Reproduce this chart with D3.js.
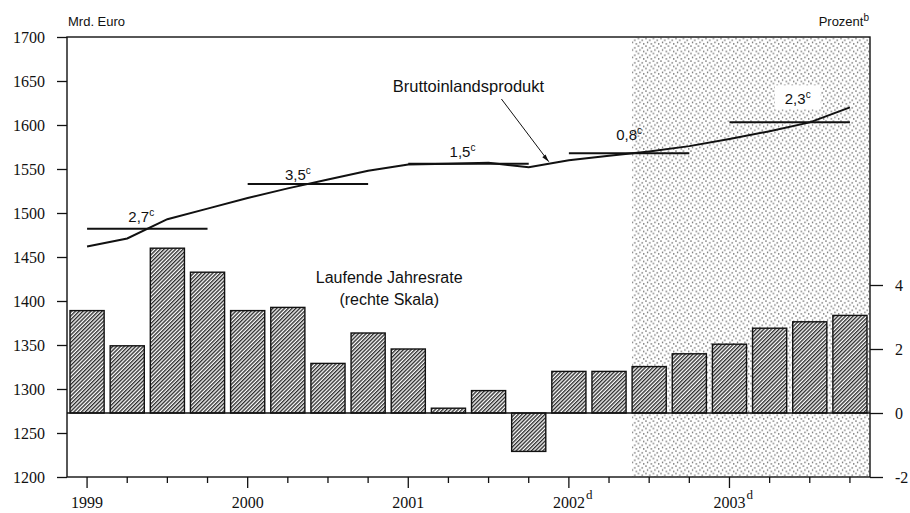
<!DOCTYPE html>
<html><head><meta charset="utf-8">
<script src="https://cdn.jsdelivr.net/npm/d3@7"></script>
<style>body{margin:0;background:#fff}</style>
</head><body><svg id="c" width="910" height="513"></svg>
<script>
// ---- data ----
const quarters = ["1999Q1","1999Q2","1999Q3","1999Q4","2000Q1","2000Q2","2000Q3","2000Q4",
  "2001Q1","2001Q2","2001Q3","2001Q4","2002Q1","2002Q2","2002Q3","2002Q4",
  "2003Q1","2003Q2","2003Q3","2003Q4"];
const rate = [3.2, 2.1, 5.15, 4.4, 3.2, 3.3, 1.55, 2.5, 2.0, 0.15, 0.7, -1.2,
  1.3, 1.3, 1.45, 1.85, 2.15, 2.65, 2.85, 3.05];
const gdp = [1462, 1471, 1493, 1505, 1517, 1528, 1538, 1548, 1555, 1556, 1557, 1552,
  1560, 1565, 1570, 1576, 1584, 1593, 1603, 1620];
const years = ["1999","2000","2001","2002","2003"];
const yearSup = ["","","","d","d"];
const avgLevel = [1482, 1533, 1556, 1568, 1603];
const avgGrowth = ["2,7","3,5","1,5","0,8","2,3"];
const leftTicks = [1200,1250,1300,1350,1400,1450,1500,1550,1600,1650,1700];
const rightTicks = [-2,0,2,4];
const forecastStart = "2002Q3";

// ---- layout ----
const L = 67, R = 870, T = 37, B = 477;
const svg = d3.select("#c");
const SERIF = "Liberation Serif";
const SANS = "Liberation Sans";
const ink = "#111";

const x = d3.scaleBand(quarters, [L, R]).paddingInner(0.15).paddingOuter(0.075);
const cx = q => x(q) + x.bandwidth() / 2;
const yL = d3.scaleLinear([1200, 1700], [B, T]);
const yR = d3.scaleLinear([-2, 11.75], [B, T]);

const defs = svg.append("defs");
const hatch = defs.append("pattern").attr("id", "hatch").attr("patternUnits", "userSpaceOnUse")
  .attr("width", 2.7).attr("height", 2.7).attr("patternTransform", "rotate(45)");
hatch.append("rect").attr("width", 2.7).attr("height", 2.7).attr("fill", "#fff");
hatch.append("line").attr("x1", 0.7).attr("y1", 0).attr("x2", 0.7).attr("y2", 2.7)
  .attr("stroke", "#1e1e1e").attr("stroke-width", 1.3);

const stip = defs.append("pattern").attr("id", "stip").attr("patternUnits", "userSpaceOnUse")
  .attr("width", 7.5).attr("height", 7.5);
[[0.5,0.3],[4.3,2.0],[2.1,4.2],[5.9,5.6]].forEach(([a,b]) =>
  stip.append("rect").attr("x", a).attr("y", b).attr("width", 0.9).attr("height", 1.6).attr("fill", "#333"));

// forecast shading
const fx = x(forecastStart);
svg.append("rect").attr("x", fx).attr("y", T).attr("width", R - fx).attr("height", B - T)
  .attr("fill", "url(#stip)");

// bars
svg.append("g").selectAll("rect").data(quarters).join("rect")
  .attr("x", q => x(q))
  .attr("width", x.bandwidth())
  .attr("y", (q, i) => Math.min(yR(rate[i]), yR(0)))
  .attr("height", (q, i) => Math.abs(yR(rate[i]) - yR(0)))
  .attr("fill", "url(#hatch)").attr("stroke", ink).attr("stroke-width", 1.4);

// zero line
svg.append("line").attr("x1", L).attr("x2", R).attr("y1", yR(0)).attr("y2", yR(0))
  .attr("stroke", ink).attr("stroke-width", 1.4);

// annual average lines + labels
const labelLift = [7, 4, 7, 13, 18];
const labelShift = [-6, -10, -6, 0, 8];
years.forEach((yr, i) => {
  const qs = quarters.filter(q => q.startsWith(yr));
  const x1 = cx(qs[0]), x2 = cx(qs[qs.length - 1]);
  const yy = yL(avgLevel[i]);
  svg.append("line").attr("x1", x1).attr("x2", x2).attr("y1", yy).attr("y2", yy)
    .attr("stroke", ink).attr("stroke-width", 2);
  const mx = (x1 + x2) / 2 + labelShift[i];
  const t = svg.append("text").attr("x", mx).attr("y", yy - labelLift[i])
    .attr("text-anchor", "middle").attr("font-family", SANS).attr("font-size", 15).attr("fill", ink);
  t.append("tspan").text(avgGrowth[i]);
  t.append("tspan").attr("font-size", 10).attr("dy", -6).text("c");
  if (mx > fx) {
    const bb = t.node().getBBox();
    svg.insert("rect", "g").attr("x", bb.x - 10).attr("y", bb.y - 4)
      .attr("width", bb.width + 20).attr("height", bb.height + 6).attr("fill", "#fff");
  }
});

// GDP line
svg.append("path").datum(quarters)
  .attr("d", d3.line().x(q => cx(q)).y((q, i) => yL(gdp[i])))
  .attr("fill", "none").attr("stroke", ink).attr("stroke-width", 2);

// annotations
const bx = (cx("2001Q1") + cx("2001Q3")) / 2 + 20;
svg.append("text").attr("x", bx).attr("y", 92).attr("text-anchor", "middle")
  .attr("font-family", SANS).attr("font-size", 16.5).attr("fill", ink).text("Bruttoinlandsprodukt");
const ax = (cx("2001Q4") + cx("2002Q1")) / 2, ay = yL((gdp[11] + gdp[12]) / 2) - 2;
svg.append("line").attr("x1", bx + 33).attr("y1", 99).attr("x2", ax).attr("y2", ay)
  .attr("stroke", ink).attr("stroke-width", 1);
svg.append("path").attr("d", `M${ax},${ay} l-6.5,-4.5 l3.2,-2.6 z`).attr("fill", ink);

const lx = (cx("2000Q3") + cx("2001Q2")) / 2 + 1;
svg.append("text").attr("x", lx).attr("y", 283).attr("text-anchor", "middle")
  .attr("font-family", SANS).attr("font-size", 16).attr("fill", ink).text("Laufende Jahresrate");
svg.append("text").attr("x", lx).attr("y", 305).attr("text-anchor", "middle")
  .attr("font-family", SANS).attr("font-size", 16).attr("fill", ink).text("(rechte Skala)");

svg.append("text").attr("x", L + 1).attr("y", 26).attr("font-family", SANS).attr("font-size", 13)
  .attr("fill", ink).text("Mrd. Euro");
const pz = svg.append("text").attr("x", R - 1).attr("y", 26).attr("text-anchor", "end")
  .attr("font-family", SANS).attr("font-size", 13).attr("fill", ink);
pz.append("tspan").text("Prozent");
pz.append("tspan").attr("font-size", 10).attr("dy", -5).text("b");

// axes
const gl = svg.append("g").attr("transform", `translate(${L},0)`)
  .call(d3.axisLeft(yL).tickValues(leftTicks).tickSize(10).tickPadding(12).tickSizeOuter(0).tickFormat(d => String(d)));
const gr = svg.append("g").attr("transform", `translate(${R},0)`)
  .call(d3.axisRight(yR).tickValues(rightTicks).tickSize(13).tickPadding(12).tickSizeOuter(0).tickFormat(d => String(d)));
const gb = svg.append("g").attr("transform", `translate(0,${B})`)
  .call(d3.axisBottom(x).tickSize(6).tickSizeOuter(0).tickFormat(""));
gb.selectAll(".tick line").filter(q => q.endsWith("Q1")).attr("y2", 11);
[gl, gr, gb].forEach(g => {
  g.attr("font-family", SERIF).attr("font-size", 16);
  g.select(".domain").remove();
  g.selectAll(".tick line").attr("stroke", ink).attr("stroke-width", 1.3);
  g.selectAll("text").attr("font-family", SERIF).attr("font-size", 16).attr("fill", ink);
});
years.forEach((yr, i) => {
  const xx = cx(yr + "Q1");
  svg.append("text").attr("font-family", SERIF).attr("x", xx).attr("y", 508).attr("text-anchor", "middle")
    .attr("font-size", 16).attr("fill", ink).text(yr);
  if (yearSup[i]) svg.append("text").attr("font-family", SERIF).attr("x", xx + 17).attr("y", 499)
    .attr("font-size", 13).attr("fill", ink).text(yearSup[i]);
});

// frame
svg.append("rect").attr("x", L).attr("y", T).attr("width", R - L).attr("height", B - T)
  .attr("fill", "none").attr("stroke", ink).attr("stroke-width", 1.4);
</script></body></html>
